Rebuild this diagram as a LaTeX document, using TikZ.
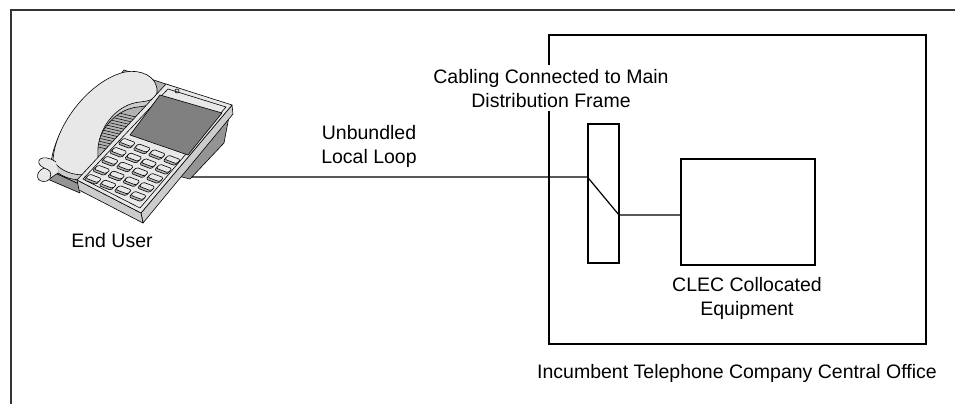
\documentclass[tikz,border=0pt]{standalone}
\usepackage{fontspec}
\setmainfont{Liberation Sans}
\usepackage{tikz}
\usetikzlibrary{calc}
\colorlet{phonelight}{black!9}
\colorlet{phoneside}{black!20}
\colorlet{phonemid}{black!30}
\colorlet{phonedark}{black!42}
\colorlet{screengray}{black!50}

\begin{document}
\begin{tikzpicture}[x=1pt, y=-1pt, line width=1.2pt,
    lbl/.style={font=\fontsize{19.5}{23.5}\selectfont, align=center, inner sep=0pt},
    box/.style={draw=black, inner sep=0pt},
    ph/.style={draw=black, line width=0.6pt, line join=round}]
    \useasboundingbox (0,0) rectangle (955,404);
    \draw[line width=1.4pt, black!80] (955,10) -- (11,10) -- (11,404);

    % the telephone
    \draw[ph, fill=phonemid] (44,168) -- (124,70) -- (231,106) -- (150,205) -- (79,184) -- cycle;
    \draw[ph, fill=phonedark] (44,168) -- (79,184) -- (80,193) -- (45,178) -- cycle;
    \draw[ph, fill=phonedark] (231,106) -- (224,143) -- (190,179) -- (178,176) -- cycle;
    \begin{scope}
      \clip (94,106) -- (150,98) -- (140,150) -- (94,162) -- cycle;
      \foreach \k in {0,...,13}
        \draw[line width=0.5pt] (90,106+3*\k) -- ++(50,12);
    \end{scope}
    \draw[ph, fill=phoneside, shift={(-2,5)}] (53,160) .. controls (55,125) and (90,80) .. (125,72)
      .. controls (140,69) and (158,76) .. (157,92) .. controls (156,100) and (148,101) .. (140,102)
      .. controls (118,104) and (100,125) .. (98,148) .. controls (97,160) and (101,166) .. (96,171)
      .. controls (88,178) and (62,176) .. (53,160) -- cycle;
    \draw[ph, fill=phonelight] (53,160) .. controls (55,125) and (90,80) .. (125,72)
      .. controls (140,69) and (158,76) .. (157,92) .. controls (156,100) and (148,101) .. (140,102)
      .. controls (118,104) and (100,125) .. (98,148) .. controls (97,160) and (101,166) .. (96,171)
      .. controls (88,178) and (62,176) .. (53,160) -- cycle;
    \draw[ph, fill=phonelight] (56,162) .. controls (42,152) and (32,162) .. (44,168)
      .. controls (34,172) and (36,184) .. (47,181) .. controls (50,179) and (53,176) .. (58,173);
    \draw[ph] (44,168) .. controls (50,170) and (52,172) .. (50,178);
    \draw[ph, fill=phoneside] (232,105) -- (233,114) -- (143,223) -- (141,213) -- cycle;
    \draw[ph, fill=phoneside] (77,180) -- (141,213) -- (143,223) -- (79,190) -- cycle;
    \draw[ph, fill=phonelight] (166,84) -- (232,105) -- (141,213) -- (77,180) -- cycle;
    \draw[ph] (168,89) -- (226,107) -- (140,208) -- (83,179) -- cycle;
    \draw[ph, fill=screengray] (160,95) -- (222,113) -- (188,155) -- (130,135) -- cycle;
    \draw[ph] (177,91) circle (2);
    \begin{scope}[shift={(127,143)}, x={(15pt,-5.7pt)}, y={(-8.5pt,-9pt)}]
      \foreach \c in {0,...,3}
        \foreach \r in {0,...,4} {
          \draw[ph, fill=phonemid, rounded corners=1.5pt] (\c-0.4,\r-0.15) -- (\c+0.4,\r-0.15) -- (\c+0.4,\r+0.36) -- (\c-0.4,\r+0.36) -- cycle;
          \draw[ph, fill=phonelight, rounded corners=1.5pt] (\c-0.4,\r-0.3) -- (\c+0.4,\r-0.3) -- (\c+0.4,\r+0.16) -- (\c-0.4,\r+0.16) -- cycle;
        }
    \end{scope}
    \coordinate (jack) at (192,177);
    \node[lbl, anchor=base] (user) at (112,247) {End User};

    % central office
    \node[box, minimum width=377pt, minimum height=309pt] (office) at (737.5,189.5) {};
    \node[lbl, anchor=base] (officelbl) at (737,378) {Incumbent Telephone Company Central Office};
    \node[box, minimum width=31pt, minimum height=139pt] (mdf) at (603.5,193.5) {};
    \node[box, minimum width=134pt, minimum height=106pt] (clec) at (748,212) {};
    \node[lbl, anchor=base, fill=white, inner xsep=3pt, inner ysep=4pt] (mdflbl) at (551,107) {Cabling Connected to Main\\Distribution Frame};
    \node[lbl, anchor=base] (cleclbl) at (747,315) {CLEC Collocated\\Equipment};
    \node[lbl, anchor=base] (looplbl) at (369,163) {Unbundled\\Local Loop};

    \coordinate (cross) at (619,215);
    \draw (jack) -- (mdf.west |- jack) -- (cross) -- (clec.west |- cross);
\end{tikzpicture}
\end{document}
